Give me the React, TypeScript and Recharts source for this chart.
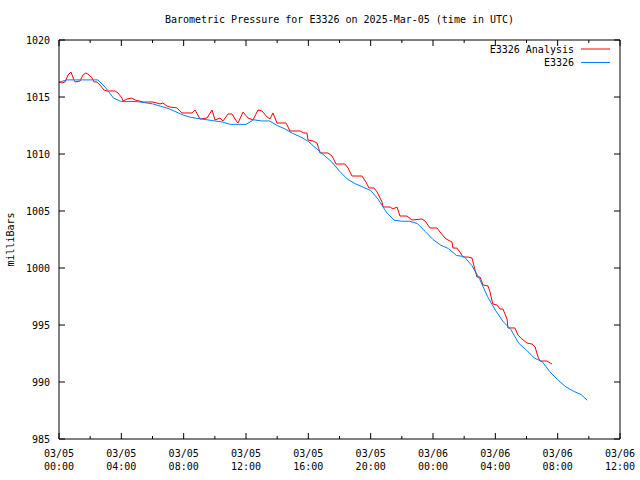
import React from 'react';
import { LineChart, Line, XAxis, YAxis, Legend } from 'recharts';

const FONT = '"DejaVu Sans Mono", "Liberation Mono", monospace';

const chartTitle = 'Barometric Pressure for E3326 on 2025-Mar-05 (time in UTC)';
const yAxisTitle = 'milliBars';
const seriesNames = ['E3326 Analysis', 'E3326'];
const seriesColors = ['#ff0000', '#0080ff'];

// hours since 03/05 00:00 UTC
const analysisHours = [
  0, 0.19, 0.39, 0.58, 0.77, 0.96, 1.03, 1.35, 1.54, 1.73, 1.93, 2.12, 2.25, 2.44, 2.63, 2.89,
  3.08, 3.59, 3.79, 4.04, 4.11, 4.36, 4.68, 4.88, 5.39, 6.03, 6.29, 6.48, 6.67, 6.93, 7.12, 7.57,
  7.89, 8.53, 8.73, 9.05, 9.5, 9.82, 10.01, 10.33, 10.52, 10.85, 11.1, 11.42, 11.49, 11.81, 12.13,
  12.45, 12.77, 13.03, 13.35, 13.54, 13.73, 13.99, 14.57, 14.82, 15.47, 15.72, 15.91, 15.98, 16.3,
  16.56, 16.75, 17.26, 17.52, 17.78, 18.35, 18.55, 18.8, 19.44, 19.7, 19.89, 20.21, 20.41, 20.73,
  20.79, 21.24, 21.43, 21.69, 21.88, 22.33, 22.65, 23.29, 23.49, 23.81, 24.26, 24.45, 24.77, 24.96,
  25.22, 25.28, 25.54, 25.73, 25.93, 26.25, 26.5, 26.7, 26.82, 27.02, 27.21, 27.53, 27.66, 27.79,
  27.85, 28.11, 28.3, 28.49, 28.75, 28.81, 29.26, 29.45, 29.71, 30.03, 30.35, 30.55, 30.74, 30.87,
  31.32, 31.51, 31.64,
];
const analysisValues = [
  1016.32, 1016.23, 1016.32, 1016.93, 1017.19, 1016.49, 1016.32, 1016.4, 1016.93, 1017.11, 1016.93,
  1016.67, 1016.32, 1016.32, 1016.05, 1015.61, 1015.53, 1015.53, 1015.35, 1014.91, 1014.65, 1014.82,
  1014.91, 1014.74, 1014.56, 1014.56, 1014.47, 1014.39, 1014.47, 1014.21, 1014.12, 1014.04, 1013.6,
  1013.6, 1013.86, 1013.07, 1013.16, 1013.86, 1012.98, 1013.16, 1012.89, 1013.51, 1013.51, 1012.81,
  1012.72, 1013.68, 1013.16, 1012.98, 1013.86, 1013.77, 1013.25, 1013.07, 1013.6, 1012.72, 1012.72,
  1012.02, 1012.02, 1011.84, 1011.84, 1011.23, 1011.14, 1010.96, 1010.09, 1010.09, 1009.82, 1009.12,
  1009.12, 1008.77, 1008.07, 1008.07, 1007.54, 1007.02, 1007.02, 1006.67, 1005.79, 1005.35, 1005.35,
  1005.18, 1005.35, 1004.56, 1004.56, 1004.21, 1004.3, 1004.12, 1003.51, 1003.51, 1003.16, 1002.63,
  1002.46, 1002.28, 1001.75, 1001.75, 1001.4, 1000.96, 1000.96, 1000.88, 999.82, 999.21, 999.21,
  998.51, 998.42, 997.89, 997.11, 996.84, 996.75, 996.4, 996.4, 995.53, 994.74, 994.74, 994.12,
  993.77, 993.42, 993.33, 993.07, 992.19, 991.84, 991.84, 991.67, 991.58,
];

const observedHours = [
  0, 0.5, 1, 1.5, 2, 2.5, 3, 3.5, 4, 4.5, 5, 5.5, 6, 6.5, 7, 7.5, 8, 8.5, 9, 9.5, 10, 10.5, 11,
  11.5, 12, 12.5, 13, 13.5, 14, 14.5, 15, 15.5, 16, 16.5, 17, 17.5, 18, 18.5, 19, 19.5, 20, 20.5,
  21, 21.5, 22, 22.5, 23, 23.5, 24, 24.5, 25, 25.5, 26, 26.5, 27, 27.5, 28, 28.5, 29, 29.5, 30,
  30.5, 31, 31.5, 32, 32.5, 33, 33.5, 33.9,
];
const observedValues = [
  1016.3, 1016.5, 1016.5, 1016.5, 1016.5, 1016.5, 1015.8, 1014.9, 1014.6, 1014.6, 1014.6, 1014.5,
  1014.4, 1014.2, 1014.0, 1013.7, 1013.4, 1013.2, 1013.1, 1013.0, 1012.9, 1012.8, 1012.6, 1012.6,
  1012.6, 1013.0, 1012.9, 1012.9, 1012.5, 1012.2, 1011.8, 1011.5, 1011.1, 1010.5, 1009.9, 1009.3,
  1008.5, 1007.8, 1007.4, 1007.1, 1006.8, 1006.0, 1004.9, 1004.2, 1004.1, 1004.1, 1003.9, 1003.2,
  1002.5, 1002.0, 1001.7, 1001.1, 1001.0, 1000.2, 999.0, 997.5, 996.3, 995.3, 994.6, 993.4, 992.8,
  992.1, 991.8, 990.9, 990.2, 989.6, 989.2, 988.9, 988.4,
];

const majorXTicks = [0, 4, 8, 12, 16, 20, 24, 28, 32, 36];
const minorXTicks = [2, 6, 10, 14, 18, 22, 26, 30, 34];
const xTickDates = ['03/05', '03/05', '03/05', '03/05', '03/05', '03/05', '03/06', '03/06', '03/06', '03/06'];
const xTickTimes = ['00:00', '04:00', '08:00', '12:00', '16:00', '20:00', '00:00', '04:00', '08:00', '12:00'];
const yTicks = [985, 990, 995, 1000, 1005, 1010, 1015, 1020];

const allXTicks = [...majorXTicks, ...minorXTicks].sort((a, b) => a - b);

const analysisData = analysisHours.map((t, i) => ({ t, p: analysisValues[i] }));
const observedData = observedHours.map((t, i) => ({ t, p: observedValues[i] }));

const BottomTick = (props: any) => {
  const { x, y, payload } = props;
  const idx = majorXTicks.indexOf(payload.value);
  const major = idx >= 0;
  return (
    <g>
      <line x1={x} y1={y} x2={x} y2={y - (major ? 6 : 3)} stroke="#000" strokeWidth={1} />
      {major && (
        <text x={x} y={y} fontFamily={FONT} fontSize={10} textAnchor="middle" fill="#000">
          <tspan x={x} dy={18}>{xTickDates[idx]}</tspan>
          <tspan x={x} dy={13}>{xTickTimes[idx]}</tspan>
        </text>
      )}
    </g>
  );
};

const TopTick = (props: any) => {
  const { x, y, payload } = props;
  const major = majorXTicks.indexOf(payload.value) >= 0;
  return <line x1={x} y1={y} x2={x} y2={y + (major ? 6 : 3)} stroke="#000" strokeWidth={1} />;
};

const LeftTick = (props: any) => {
  const { x, y, payload } = props;
  return (
    <g>
      <line x1={x} y1={y} x2={x + 6} y2={y} stroke="#000" strokeWidth={1} />
      <text x={x - 9} y={y + 3.5} fontFamily={FONT} fontSize={10} textAnchor="end" fill="#000">
        {payload.value}
      </text>
    </g>
  );
};

const RightTick = (props: any) => {
  const { x, y } = props;
  return <line x1={x} y1={y} x2={x - 6} y2={y} stroke="#000" strokeWidth={1} />;
};

const LegendContent = () => (
  <svg width={180} height={30} style={{ display: 'block' }}>
    {seriesNames.map((name, i) => (
      <g key={name}>
        <text x={134} y={i * 13.5 + 10.5} fontFamily={FONT} fontSize={10} textAnchor="end" fill="#000">
          {name}
        </text>
        <line x1={141} x2={170} y1={i * 13.5 + 7} y2={i * 13.5 + 7} stroke={seriesColors[i]} strokeWidth={1} />
      </g>
    ))}
  </svg>
);

export default function App() {
  return (
    <div style={{ position: 'absolute', left: 0, top: 0, width: 640, height: 480, background: '#fff' }}>
      <LineChart
        width={640}
        height={480}
        margin={{ top: 39, right: 19, bottom: 0, left: 0 }}
      >
        <text x={339.5} y={23} fontFamily={FONT} fontSize={10} textAnchor="middle" fill="#000">
          {chartTitle}
        </text>
        <text
          x={14}
          y={239.5}
          fontFamily={FONT}
          fontSize={10}
          textAnchor="middle"
          fill="#000"
          transform="rotate(-90 14 239.5)"
        >
          {yAxisTitle}
        </text>
        <XAxis
          xAxisId="bottom"
          dataKey="t"
          type="number"
          domain={[0, 36]}
          ticks={allXTicks}
          interval={0}
          height={41}
          tickSize={0}
          tickMargin={0}
          tickLine={false}
          tick={<BottomTick />}
          axisLine={{ stroke: '#000' }}
          allowDataOverflow
        />
        <XAxis
          xAxisId="top"
          orientation="top"
          dataKey="t"
          type="number"
          domain={[0, 36]}
          ticks={allXTicks}
          interval={0}
          height={1}
          tickSize={0}
          tickMargin={0}
          tickLine={false}
          tick={<TopTick />}
          axisLine={{ stroke: '#000' }}
          allowDataOverflow
        />
        <YAxis
          yAxisId="left"
          type="number"
          domain={[985, 1020]}
          ticks={yTicks}
          interval={0}
          width={59}
          tickSize={0}
          tickMargin={0}
          tickLine={false}
          tick={<LeftTick />}
          axisLine={{ stroke: '#000' }}
          allowDataOverflow
        />
        <YAxis
          yAxisId="right"
          orientation="right"
          type="number"
          domain={[985, 1020]}
          ticks={yTicks}
          interval={0}
          width={1}
          tickSize={0}
          tickMargin={0}
          tickLine={false}
          tick={<RightTick />}
          axisLine={{ stroke: '#000' }}
          allowDataOverflow
        />
        <Legend
          layout="vertical"
          align="center"
          verticalAlign="middle"
          wrapperStyle={{ left: 440, top: 42, width: 180, height: 30 }}
          content={<LegendContent />}
        />
        <Line
          xAxisId="bottom"
          yAxisId="left"
          data={analysisData}
          dataKey="p"
          name={seriesNames[0]}
          type="linear"
          stroke={seriesColors[0]}
          strokeWidth={1}
          dot={false}
          activeDot={false}
          isAnimationActive={false}
        />
        <Line
          xAxisId="bottom"
          yAxisId="left"
          data={observedData}
          dataKey="p"
          name={seriesNames[1]}
          type="linear"
          stroke={seriesColors[1]}
          strokeWidth={1}
          dot={false}
          activeDot={false}
          isAnimationActive={false}
        />
      </LineChart>
    </div>
  );
}
